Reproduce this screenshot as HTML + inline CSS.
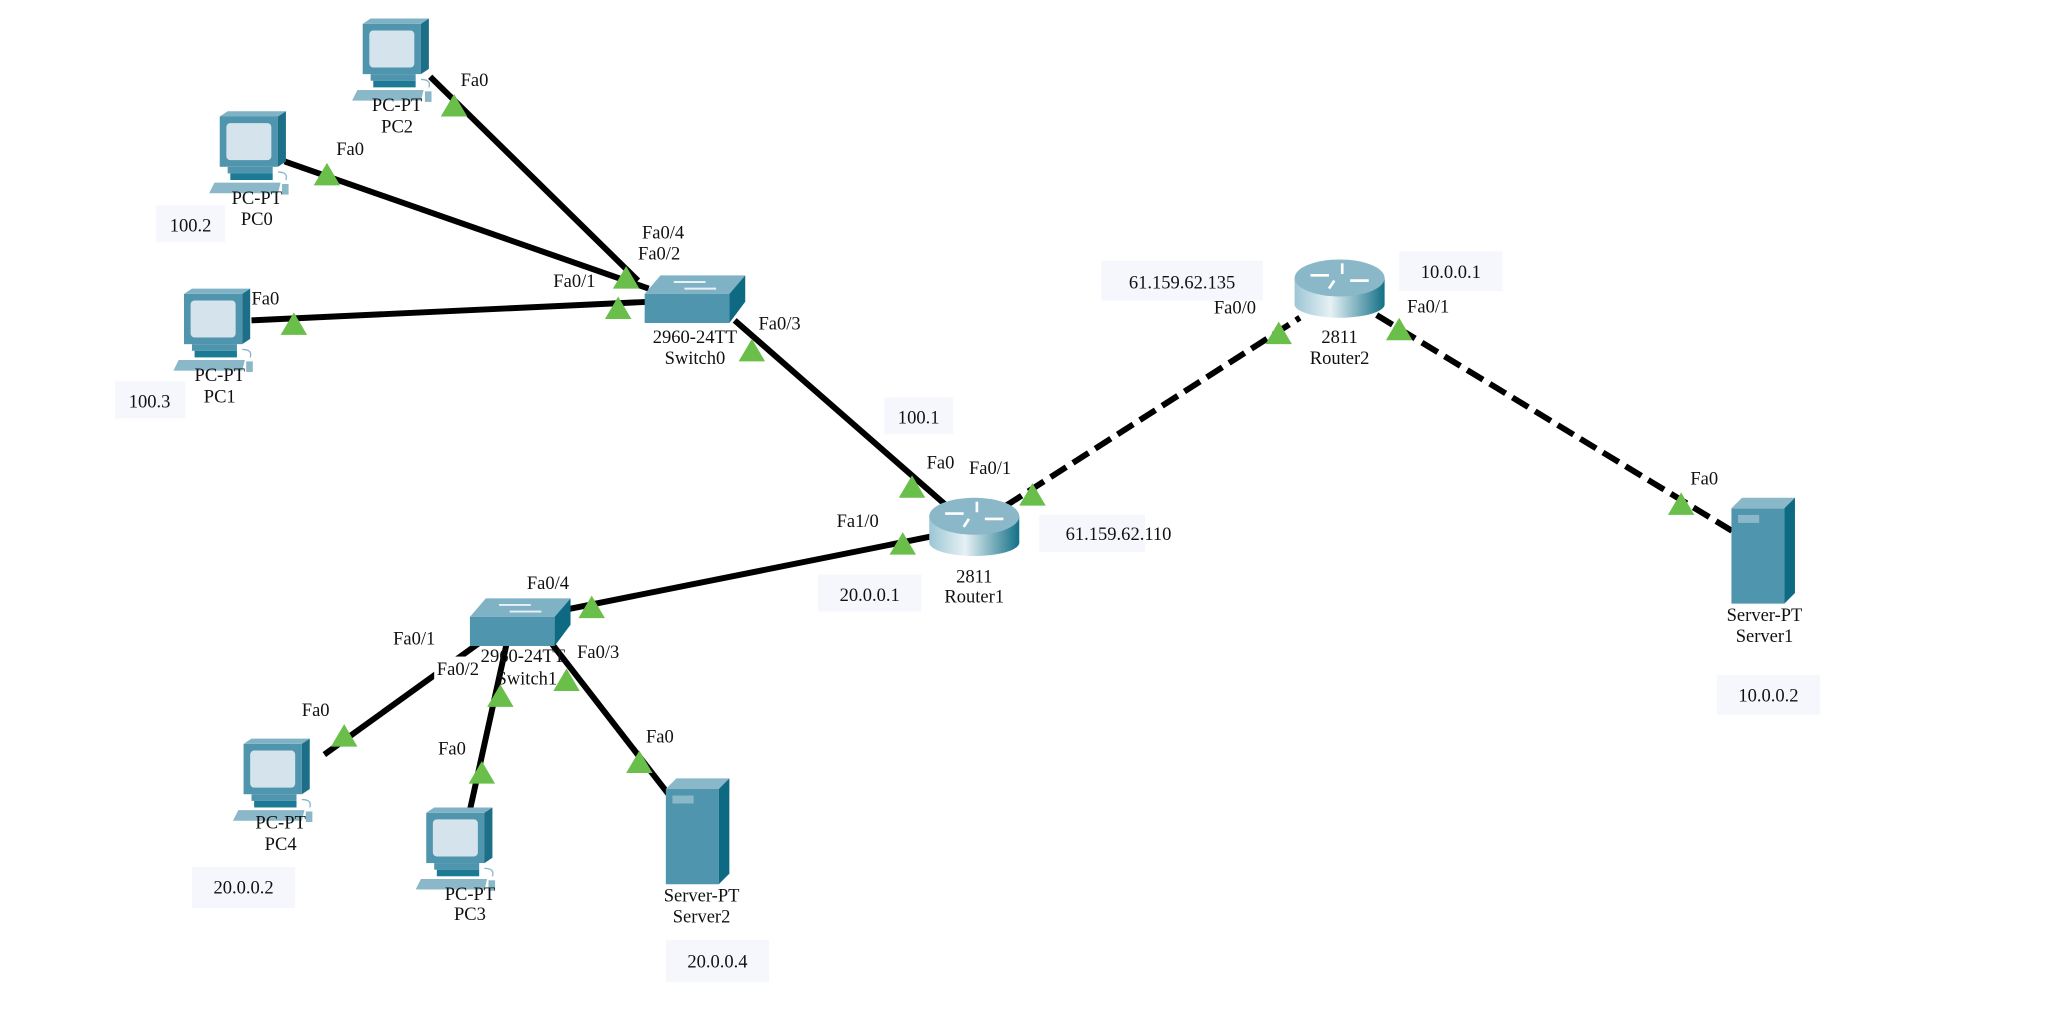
<!DOCTYPE html>
<html><head><meta charset="utf-8"><style>
html,body{margin:0;padding:0;background:#fff;width:2065px;height:1010px;overflow:hidden}
svg{display:block}
text{font-family:"Liberation Serif","Noto Serif CJK SC",serif;font-size:14px;fill:#111}
.c{text-anchor:middle}
</style></head><body>
<svg width="2065" height="1010" viewBox="0 0 1560 763" preserveAspectRatio="none" xmlns="http://www.w3.org/2000/svg">
<defs>
<g id="pc">
 <rect x="6" y="0" width="44" height="38" fill="#4f95ad"/>
 <polygon points="6,0 12,-4 56,-4 50,0" fill="#7fb2c4"/>
 <polygon points="50,0 56,-4 56,34 50,38" fill="#1d6e87"/>
 <rect x="11" y="5" width="34" height="28" rx="3" fill="#d5e4ec"/>
 <rect x="12" y="38" width="34" height="5" fill="#4f95ad"/>
 <rect x="14" y="43" width="32" height="5" fill="#1d7a94"/>
 <polygon points="-2,58 2,50 52,50 50,58" fill="#8ab8c9"/>
 <rect x="53" y="51" width="5" height="8" fill="#8ab8c9"/>
 <path d="M50,42 q8,0 6,6" stroke="#8ab8c9" fill="none"/>
</g>
<g id="sw">
 <polygon points="0,14 12,0 76,0 64,14" fill="#7fb2c4"/>
 <rect x="0" y="14" width="64" height="22" fill="#4f95ad"/>
 <polygon points="64,14 76,0 76,20 64,36" fill="#0e6a82"/>
 <path d="M22,5 h24 M30,10 h24" stroke="#e8f2f6" stroke-width="1.5"/>
</g>
<g id="rt">
 <linearGradient id="rg" x1="0" x2="1"><stop offset="0" stop-color="#9cc6d4"/><stop offset="0.4" stop-color="#e6f1f5"/><stop offset="1" stop-color="#137086"/></linearGradient>
 <rect x="0" y="14" width="68" height="20" fill="url(#rg)"/>
 <ellipse cx="34" cy="34" rx="34" ry="10" fill="url(#rg)"/>
 <ellipse cx="34" cy="14" rx="34" ry="14" fill="#8ab8c9"/>
 <path d="M12,12 h14 M42,16 h14 M36,3 v8 M30,16 l-4,6" stroke="#fff" stroke-width="2"/>
</g>
<g id="srv">
 <rect x="0" y="8" width="40" height="72" fill="#4f95ad"/>
 <polygon points="0,8 8,0 48,0 40,8" fill="#8ab8c9"/>
 <polygon points="40,8 48,0 48,72 40,80" fill="#0e6a82"/>
 <rect x="5" y="13" width="16" height="6" fill="#8ab8c9"/>
</g>
<polygon id="tri" points="0,-13 10,4 -10,4" fill="#6abf4b"/>
</defs>

<g stroke="#000" stroke-width="4.5" fill="none">
 <line x1="325" y1="58" x2="482" y2="212"/>
 <line x1="215" y1="122" x2="490" y2="218"/>
 <line x1="190" y1="242" x2="490" y2="228"/>
 <line x1="555" y1="242" x2="715" y2="382"/>
 <line x1="705" y1="405" x2="430" y2="460"/>
 <line x1="370" y1="480" x2="245" y2="570"/>
 <line x1="383" y1="485" x2="355" y2="612"/>
 <line x1="412" y1="480" x2="505" y2="600"/>
 <line x1="760" y1="382" x2="982" y2="240" stroke-dasharray="14,6"/>
 <line x1="1040" y1="238" x2="1310" y2="402" stroke-dasharray="14,6"/>
</g>

<use href="#pc" x="268" y="18"/>
<use href="#pc" x="160" y="88"/>
<use href="#pc" x="133" y="222"/>
<use href="#pc" x="178" y="562"/>
<use href="#pc" x="316" y="614"/>
<use href="#sw" x="487" y="208"/>
<use href="#sw" x="355" y="452"/>
<use href="#rt" x="702" y="376"/>
<use href="#rt" x="978" y="196"/>
<use href="#srv" x="1308" y="376"/>
<use href="#srv" x="503" y="588"/>

<g>
<use href="#tri" x="343" y="84"/><use href="#tri" x="247" y="136"/><use href="#tri" x="222" y="249"/>
<use href="#tri" x="473" y="214"/><use href="#tri" x="467" y="237"/><use href="#tri" x="568" y="269"/>
<use href="#tri" x="689" y="372"/><use href="#tri" x="780" y="378"/><use href="#tri" x="682" y="415"/>
<use href="#tri" x="966" y="256"/><use href="#tri" x="1057" y="253"/><use href="#tri" x="1270" y="385"/>
<use href="#tri" x="447" y="463"/><use href="#tri" x="260" y="560"/><use href="#tri" x="364" y="588"/>
<use href="#tri" x="428" y="518"/><use href="#tri" x="378" y="530"/><use href="#tri" x="483" y="580"/>
</g>

<g fill="#f5f7fd">
<rect x="118" y="155" width="52" height="28"/><rect x="87" y="288" width="53" height="28"/>
<rect x="668" y="300" width="52" height="28"/><rect x="618" y="434" width="78" height="28"/>
<rect x="785" y="389" width="80" height="28"/><rect x="832" y="197" width="122" height="30"/>
<rect x="1057" y="190" width="78" height="30"/><rect x="1297" y="510" width="78" height="30"/>
<rect x="145" y="655" width="78" height="31"/><rect x="503" y="710" width="78" height="32"/>
</g>
<rect x="483" y="163" width="48" height="22" fill="#fff"/>
<rect x="328" y="496" width="40" height="18" fill="#fff"/>

<text x="348" y="65">Fa0</text>
<text x="300" y="84" class="c">PC-PT</text><text x="300" y="100" class="c">PC2</text>
<text x="254" y="117">Fa0</text>
<text x="194" y="154" class="c">PC-PT</text><text x="194" y="170" class="c">PC0</text>
<text x="144" y="175" class="c">100.2</text>
<text x="190" y="230">Fa0</text>
<text x="166" y="288" class="c">PC-PT</text><text x="166" y="304" class="c">PC1</text>
<text x="113" y="308" class="c">100.3</text>
<text x="485" y="180">Fa0/4</text>
<text x="482" y="196">Fa0/2</text>
<text x="418" y="217">Fa0/1</text>
<text x="573" y="249">Fa0/3</text>
<text x="525" y="259" class="c">2960-24TT</text><text x="525" y="275" class="c">Switch0</text>
<text x="694" y="320" class="c">100.1</text>
<text x="700" y="354">Fa0</text>
<text x="732" y="358">Fa0/1</text>
<text x="632" y="398">Fa1/0</text>
<text x="736" y="440" class="c">2811</text><text x="736" y="455" class="c">Router1</text>
<text x="657" y="454" class="c">20.0.0.1</text>
<text x="845" y="408" class="c">61.159.62.110</text>
<text x="893" y="218" class="c">61.159.62.135</text>
<text x="917" y="237">Fa0/0</text>
<text x="1012" y="259" class="c">2811</text><text x="1012" y="275" class="c">Router2</text>
<text x="1096" y="210" class="c">10.0.0.1</text>
<text x="1063" y="236">Fa0/1</text>
<text x="1277" y="366">Fa0</text>
<text x="1333" y="469" class="c">Server-PT</text><text x="1333" y="485" class="c">Server1</text>
<text x="1336" y="530" class="c">10.0.0.2</text>
<text x="398" y="445">Fa0/4</text>
<text x="297" y="487">Fa0/1</text>
<text x="330" y="510">Fa0/2</text>
<text x="395" y="500" class="c">2960-24TT</text><text x="398" y="517" class="c">Switch1</text>
<text x="436" y="497">Fa0/3</text>
<text x="228" y="541">Fa0</text>
<text x="331" y="570">Fa0</text>
<text x="488" y="561">Fa0</text>
<text x="212" y="626" class="c">PC-PT</text><text x="212" y="642" class="c">PC4</text>
<text x="184" y="675" class="c">20.0.0.2</text>
<text x="355" y="680" class="c">PC-PT</text><text x="355" y="695" class="c">PC3</text>
<text x="530" y="681" class="c">Server-PT</text><text x="530" y="697" class="c">Server2</text>
<text x="542" y="731" class="c">20.0.0.4</text>
</svg>
</body></html>
